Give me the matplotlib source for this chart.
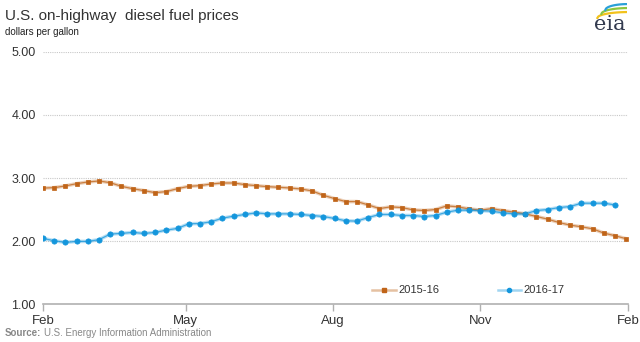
import numpy as np
import matplotlib
matplotlib.use("Agg")
import matplotlib.pyplot as plt

plt.rcParams['font.family'] = ['Liberation Sans', 'DejaVu Sans']

# weekly prices, dollars per gallon
prices_2015_16 = [2.84, 2.847, 2.874, 2.91, 2.937, 2.953, 2.926, 2.868, 2.831, 2.80,
                  2.768, 2.784, 2.831, 2.868, 2.879, 2.905, 2.921, 2.921, 2.895, 2.879,
                  2.863, 2.853, 2.842, 2.826, 2.795, 2.726, 2.673, 2.626, 2.626, 2.573,
                  2.515, 2.542, 2.531, 2.494, 2.484, 2.50, 2.558, 2.542, 2.51, 2.489,
                  2.515, 2.484, 2.458, 2.431, 2.389, 2.347, 2.294, 2.252, 2.226, 2.194,
                  2.126, 2.084, 2.036]
prices_2016_17 = [2.042, 2.005, 1.978, 1.994, 1.994, 2.021, 2.11, 2.121, 2.136, 2.121,
                  2.136, 2.173, 2.20, 2.273, 2.278, 2.305, 2.363, 2.394, 2.421, 2.447,
                  2.431, 2.431, 2.431, 2.421, 2.405, 2.389, 2.358, 2.321, 2.316, 2.373,
                  2.421, 2.421, 2.405, 2.405, 2.389, 2.405, 2.458, 2.489, 2.489, 2.484,
                  2.473, 2.447, 2.431, 2.431, 2.484, 2.50, 2.531, 2.547, 2.60, 2.60,
                  2.60, 2.573]
series_names = ["2015-16", "2016-17"]
month_labels = ["Feb", "May", "Aug", "Nov", "Feb"]
month_days = [0, 89, 181, 273, 365]
y_ticks = [1.0, 2.0, 3.0, 4.0, 5.0]

days_a = np.arange(len(prices_2015_16)) * 7
days_b = np.arange(len(prices_2016_17)) * 7

fig = plt.figure(figsize=(6.4, 3.42), dpi=100)
ax = fig.add_axes([0.067, 0.111, 0.914, 0.737])

orange = "#c06418"
blue = "#1496dc"

for days, vals, col, mk, name in [(days_a, prices_2015_16, orange, "s", series_names[0]),
                                  (days_b, prices_2016_17, blue, "o", series_names[1])]:
    ax.plot(days, vals, color=col, alpha=0.3, lw=2.6, solid_capstyle="round", zorder=2)
    ax.plot(days, vals, color=col, alpha=0.75, lw=0.9, zorder=3)
    ax.plot(days, vals, ls="none", marker=mk, ms=3.4 if mk == "s" else 3.8,
            mfc=col, mec=col, mew=0.5, zorder=4, label=name)

ax.set_xlim(0, 365)
ax.set_ylim(1.0, 5.0)
ax.set_yticks(y_ticks)
ax.set_yticklabels([f"{v:.2f}" for v in y_ticks])
ax.set_xticks(month_days)
ax.set_xticklabels(month_labels)

for v in y_ticks[1:]:
    ax.axhline(v, color="#c8c8c8", lw=0.8, ls=(0, (1, 1)), zorder=1)

for s in ["top", "right", "left"]:
    ax.spines[s].set_visible(False)
ax.spines["bottom"].set_color("#b0b0b0")
ax.spines["bottom"].set_linewidth(1.2)
ax.tick_params(axis="y", length=0, pad=5, labelsize=9, labelcolor="#333333")
ax.tick_params(axis="x", length=5, width=1, color="#b0b0b0", pad=3,
               labelsize=9.5, labelcolor="#333333")

# legend drawn by hand, faded line with a marker in the middle
leg_y = 1 - 290 / 342
for x0, col, mk, name in [(0.582, orange, "s", series_names[0]),
                          (0.778, blue, "o", series_names[1])]:
    fig.lines.append(plt.Line2D([x0, x0 + 0.036], [leg_y] * 2, color=col,
                                alpha=0.4, lw=1.8, transform=fig.transFigure))
    fig.lines.append(plt.Line2D([x0 + 0.018], [leg_y], color=col, marker=mk,
                                ms=3, transform=fig.transFigure))
    fig.text(x0 + 0.04, leg_y, name, fontsize=8, color="#333333", va="center")

fig.text(0.008, 1 - 16 / 342, "U.S. on-highway  diesel fuel prices", fontsize=11,
         color="#333333", va="center")
fig.text(0.008, 1 - 32 / 342, "dollars per gallon", fontsize=7, color="#222222", va="center")
fig.text(0.008, 1 - 333 / 342, "Source:", fontsize=7, color="#888888", va="center",
         fontweight="bold")
fig.text(0.068, 1 - 333 / 342, "U.S. Energy Information Administration", fontsize=7,
         color="#888888", va="center")

# eia logo
fig.text(0.953, 1 - 25 / 342, "eia", fontsize=15, family="DejaVu Serif",
         color="#333b4f", ha="center", va="center")
logo = fig.add_axes([0.928, 1 - 19 / 342, 0.052, 16 / 342])
logo.set_xlim(0, 1)
logo.set_ylim(0, 1)
logo.axis("off")
t = np.linspace(0, 1, 30)
for k, col in enumerate(["#f2c21b", "#8dc63f", "#2aa0d8"]):
    x0 = 0.1 + 0.12 * k
    xs = x0 + (1 - x0) * t
    ys = 0.05 + 0.25 * k + 0.55 * np.sqrt(t) * (1 - 0.3 * t)
    logo.plot(xs, ys, color=col, lw=1.6, solid_capstyle="round")

fig.savefig("out.png", dpi=100)
